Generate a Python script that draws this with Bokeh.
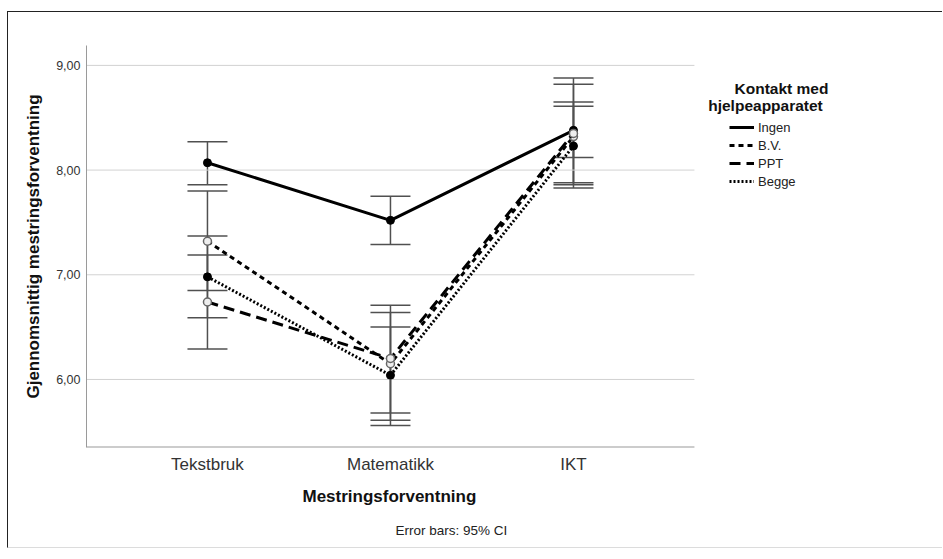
from bokeh.plotting import figure
from bokeh.models import (ColumnDataSource, Whisker, TeeHead, FixedTicker, Legend, LegendItem,
                          Label, Range1d, Title)
from bokeh.embed import file_html
from bokeh.resources import INLINE

categories = ["Tekstbruk", "Matematikk", "IKT"]
series_names = ["Ingen", "B.V.", "PPT", "Begge"]

ingen = [8.07, 7.52, 8.38]
ingen_lo = [7.86, 7.29, 8.12]
ingen_hi = [8.27, 7.75, 8.65]

bv = [7.32, 6.15, 8.32]
bv_lo = [6.85, 5.61, 7.83]
bv_hi = [7.80, 6.71, 8.82]

ppt = [6.74, 6.20, 8.35]
ppt_lo = [6.29, 5.68, 7.88]
ppt_hi = [7.19, 6.64, 8.88]

begge = [6.98, 6.04, 8.23]
begge_lo = [6.59, 5.56, 7.86]
begge_hi = [7.37, 6.50, 8.61]

y_ticks = [6, 7, 8, 9]
y_tick_labels = ["6,00", "7,00", "8,00", "9,00"]

FONT = "Liberation Sans"

# layout constants (data units)
X_LO, X_PLOT_HI, X_HI = -0.661, 2.661, 4.022
Y_LO, Y_HI = 5.35, 9.19

p = figure(width=935, height=537, output_backend="svg", toolbar_location=None,
           x_range=Range1d(X_LO, X_HI), y_range=Range1d(Y_LO, Y_HI),
           min_border_left=78, min_border_top=33, min_border_bottom=102, min_border_right=0)
p.styles = {"border-left": "1px solid #222", "border-top": "1px solid #222",
            "border-bottom": "1px solid #dcdcdc", "margin-top": "11px", "margin-left": "7px"}
p.outline_line_color = None
p.background_fill_color = "white"
p.border_fill_color = "white"

xs = list(range(len(categories)))

# grid lines limited to the plotting region
p.xgrid.grid_line_color = None
p.ygrid.grid_line_color = None
p.segment(x0=[X_LO] * len(y_ticks), x1=[X_PLOT_HI] * len(y_ticks), y0=y_ticks, y1=y_ticks,
          line_color="#d2d2d2", line_width=1)
# bottom axis line limited to the plotting region
p.segment(x0=[X_LO], x1=[X_PLOT_HI], y0=[Y_LO], y1=[Y_LO], line_color="#9a9a9a", line_width=2)

# axes
p.xaxis.ticker = FixedTicker(ticks=xs)
p.xaxis.major_label_overrides = {i: c for i, c in enumerate(categories)}
p.yaxis.ticker = FixedTicker(ticks=y_ticks)
p.yaxis.major_label_overrides = {t: l for t, l in zip(y_ticks, y_tick_labels)}
for ax in (p.xaxis, p.yaxis):
    ax.axis_line_color = "#9a9a9a"
    ax.axis_line_width = 1
    ax.major_tick_line_color = None
    ax.minor_tick_line_color = None
    ax.major_tick_out = 0
    ax.major_tick_in = 0
    ax.minor_tick_out = 0
    ax.major_label_text_font = FONT
    ax.major_label_text_color = "#333333"
    ax.axis_label_text_font = FONT
    ax.axis_label_text_font_style = "bold"
    ax.axis_label_text_color = "#111111"
p.xaxis.axis_line_color = None
p.xaxis.major_label_text_font_size = "17px"
p.yaxis.major_label_text_font_size = "12.5px"
p.xaxis.major_label_standoff = 7
p.yaxis.major_label_standoff = 6
p.yaxis.axis_label = "Gjennomsnittig mestringsforventning"
p.yaxis.axis_label_text_font_size = "17px"
p.yaxis.axis_label_standoff = 10

p.add_layout(Title(text="Mestringsforventning", align="left", offset=216,
                   text_font=FONT, text_font_size="17px", text_font_style="bold",
                   text_color="#111111", standoff=17), "below")
p.add_layout(Title(text="Error bars: 95% CI", align="left", offset=309,
                   text_font=FONT, text_font_size="13.5px", text_font_style="normal",
                   text_color="#222222", standoff=13), "below")

styles = {
    "Ingen": dict(line_dash="solid"),
    "B.V.": dict(line_dash="5 4"),
    "PPT": dict(line_dash="11 6"),
    "Begge": dict(line_dash="2 2"),
}
data = {
    "Ingen": (ingen, ingen_lo, ingen_hi, True),
    "B.V.": (bv, bv_lo, bv_hi, False),
    "PPT": (ppt, ppt_lo, ppt_hi, False),
    "Begge": (begge, begge_lo, begge_hi, True),
}

# error bars
for name in series_names:
    m, lo, hi, filled = data[name]
    src = ColumnDataSource(dict(x=xs, lo=lo, hi=hi))
    w = Whisker(source=src, base="x", lower="lo", upper="hi",
                line_color="#505050", line_width=1.5,
                upper_head=TeeHead(size=40, line_color="#505050", line_width=1.5),
                lower_head=TeeHead(size=40, line_color="#505050", line_width=1.5))
    p.add_layout(w)

items = []
for name in series_names:
    m, lo, hi, filled = data[name]
    src = ColumnDataSource(dict(x=xs, y=m))
    r = p.line("x", "y", source=src, line_color="black", line_width=3, **styles[name])
    if filled:
        p.scatter("x", "y", source=src, size=8, fill_color="black", line_color="black")
    else:
        p.scatter("x", "y", source=src, size=8, fill_color="#eeeeee", line_color="#666666",
                  line_width=1.5)
    items.append(LegendItem(label=name, renderers=[r]))

legend = Legend(items=items, location=(643, 257), padding=0, spacing=0, margin=0,
                glyph_height=18, label_height=18, glyph_width=25, label_standoff=4,
                label_text_font=FONT, label_text_font_size="13px", label_text_color="#222222",
                border_line_color=None, background_fill_alpha=0)
p.add_layout(legend, "center")

p.add_layout(Label(x=695, y=359, x_units="screen", y_units="screen", text="Kontakt med",
                   text_font=FONT, text_font_size="15.5px", text_font_style="bold",
                   text_align="center", text_baseline="middle", text_color="#111111"))
p.add_layout(Label(x=679, y=342, x_units="screen", y_units="screen", text="hjelpeapparatet",
                   text_font=FONT, text_font_size="15.5px", text_font_style="bold",
                   text_align="center", text_baseline="middle", text_color="#111111"))

open("out.html", "w").write(file_html(p, INLINE))
